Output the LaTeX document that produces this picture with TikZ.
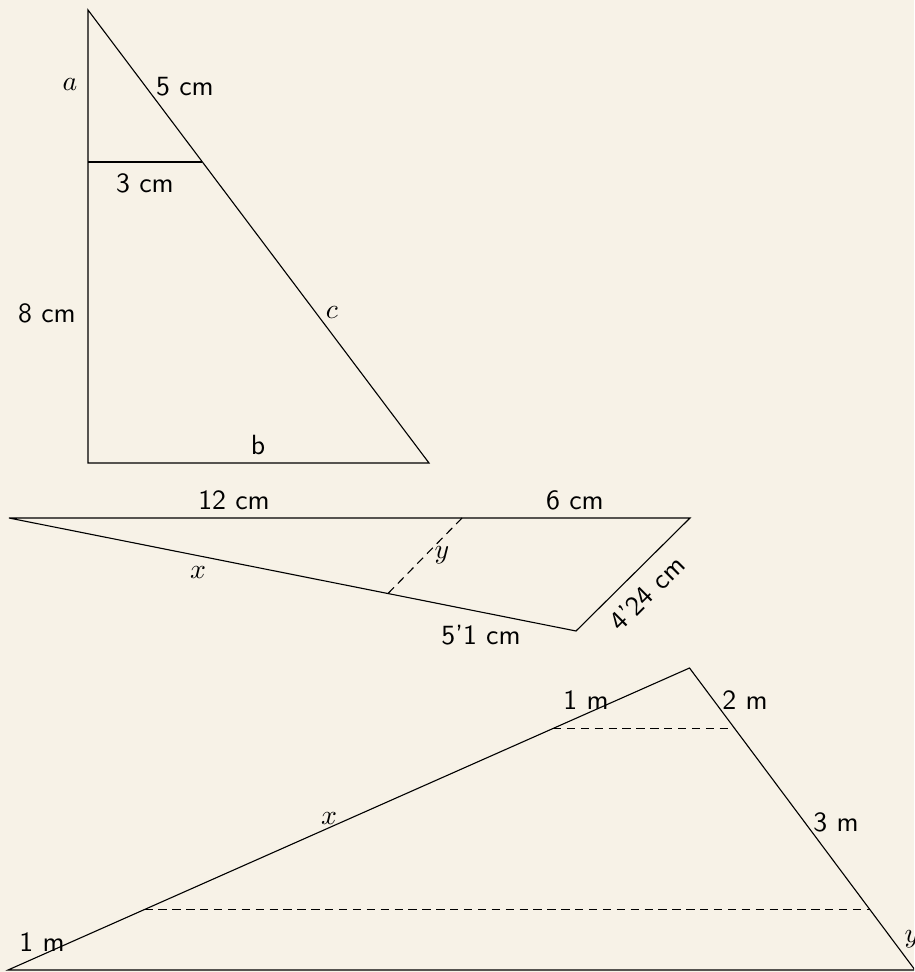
\documentclass[tikz,border=0pt]{standalone}
\definecolor{bgbeige}{RGB}{247,242,231}
\begin{document}
\begin{tikzpicture}[x=0.36pt,y=-0.36pt,font=\sffamily,
  lbl/.style={inner sep=0pt},
  side/.style={line width=0.4pt,black},
  helper/.style={line width=0.4pt,black,dash pattern=on 3pt off 2pt}]
\useasboundingbox (0,0) rectangle (914,972);
\fill[bgbeige] (0,0) rectangle (914,972);
\clip (0,0) rectangle (914,972);
% ---- triangle 1 ----
\coordinate (A) at (88,10);
\coordinate (B) at (88,463);
\coordinate (C) at (429,463);
\coordinate (D) at (88,162);
\coordinate (E) at (202.4,162);
\draw[side] (A) -- (B) -- (C) -- cycle;
\draw[side] (D) -- (E);
\node[lbl] (la) at (70,85) {$a$};
\node[lbl] (l5) at (185,87) {5 cm};
\node[lbl] (l3) at (145,183) {3 cm};
\node[lbl] (l8) at (47,313) {8 cm};
\node[lbl] (lc) at (332,313) {$c$};
\node[lbl] (lb) at (258,445) {b};
% ---- triangle 2 ----
\coordinate (P) at (9,518);
\coordinate (Q) at (690,518);
\coordinate (R) at (576,631);
\coordinate (S) at (462,518);
\coordinate (U) at (388,593.5);
\draw[side] (P) -- (Q) -- (R) -- cycle;
\draw[helper] (S) -- (U);
\node[lbl] (l12) at (234,500) {12 cm};
\node[lbl] (l6) at (575,500) {6 cm};
\node[lbl] (lx2) at (198,573) {$x$};
\node[lbl] (ly2) at (442,555) {$y$};
\node[lbl] (l51) at (481,635) {5'1 cm};
\node[lbl,rotate=45] (l424) at (647,593) {4'24 cm};
% ---- triangle 3 ----
\coordinate (L) at (8,970);
\coordinate (T) at (689.5,668);
\coordinate (W) at (915,970);
\coordinate (H1) at (553,728.5);
\coordinate (H2) at (734.7,728.5);
\coordinate (H3) at (144.5,909.5);
\coordinate (H4) at (869.8,909.5);
\draw[side] (L) -- (T) -- (W) -- cycle;
\draw[helper] (H1) -- (H2);
\draw[helper] (H3) -- (H4);
\node[lbl] (l1a) at (586,700) {1 m};
\node[lbl] (l2) at (745,700) {2 m};
\node[lbl] (l3m) at (836,822) {3 m};
\node[lbl] (lx3) at (329,819) {$x$};
\node[lbl] (l1b) at (42,942) {1 m};
\node[lbl] (ly3) at (912,939) {$y$};
\end{tikzpicture}
\end{document}
